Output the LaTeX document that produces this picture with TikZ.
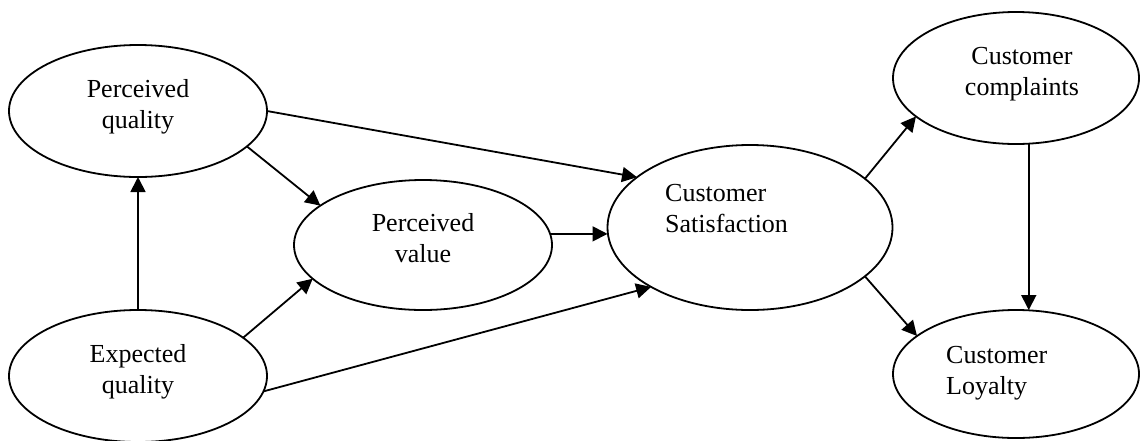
\documentclass[tikz,border=0pt]{standalone}
\usepackage{fontspec}
\setmainfont{Liberation Serif}
\usetikzlibrary{shapes.geometric,arrows.meta}
\tikzset{
  ell/.style={draw, ellipse, inner sep=0pt, outer sep=0pt, line width=1.8pt},
  lbl/.style={inner sep=0pt, font=\fontsize{26}{31}\selectfont},
  arr/.style={line width=1.8pt, -{Triangle[length=15pt,width=15pt]}}
}
\newcommand{\twoc}[2]{\begin{tabular}[t]{@{}c@{}}#1\\#2\end{tabular}}
\newcommand{\twol}[2]{\begin{tabular}[t]{@{}l@{}}#1\\#2\end{tabular}}
\begin{document}
\begin{tikzpicture}[x=1pt,y=-1pt]
\useasboundingbox (0,0) rectangle (1140,440);
% ellipses
\node[ell, minimum width=258pt, minimum height=132pt] (PQ) at (138,111) {};
\node[ell, minimum width=258pt, minimum height=132pt] (EQ) at (138,376) {};
\node[ell, minimum width=258pt, minimum height=130pt] (PV) at (423,245) {};
\node[ell, minimum width=285pt, minimum height=165pt] (CS) at (750,227.5) {};
\node[ell, minimum width=246pt, minimum height=132pt] (CC) at (1016,78) {};
\node[ell, minimum width=246pt, minimum height=128pt] (CL) at (1016,374) {};
% texts
\node[lbl, anchor=base] (tPQ) at (138,97) {\twoc{Perceived}{quality}};
\node[lbl, anchor=base] (tEQ) at (138,362) {\twoc{Expected}{quality}};
\node[lbl, anchor=base] (tPV) at (423,231) {\twoc{Perceived}{value}};
\node[lbl, anchor=base west] (tCS) at (665,201) {\twol{Customer}{Satisfaction}};
\node[lbl, anchor=base] (tCC) at (1022,64) {\twoc{Customer}{complaints}};
\node[lbl, anchor=base west] (tCL) at (946,363) {\twol{Customer}{Loyalty}};
% connectors
\draw[arr] (EQ.north) -- (PQ.south);
\draw[arr] (PQ.-18.7) -- (PV.159.7);
\draw[arr] (EQ.20.6) -- (PV.197.5);
\draw[arr] (PQ.0.4) -- (CS.156.7);
\draw[arr] (PV.5.3) -- (PV.5.3 -| CS.west);
\draw[arr] (EQ.-7.1) -- (CS.211.5);
\draw[arr] (CS.23.5) -- (CC.201.5);
\draw[arr] (CS.-23.5) -- (CL.159);
\draw[arr] (CC.-79.6) -- (CC.-79.6 |- CL.north);
\end{tikzpicture}
\end{document}
